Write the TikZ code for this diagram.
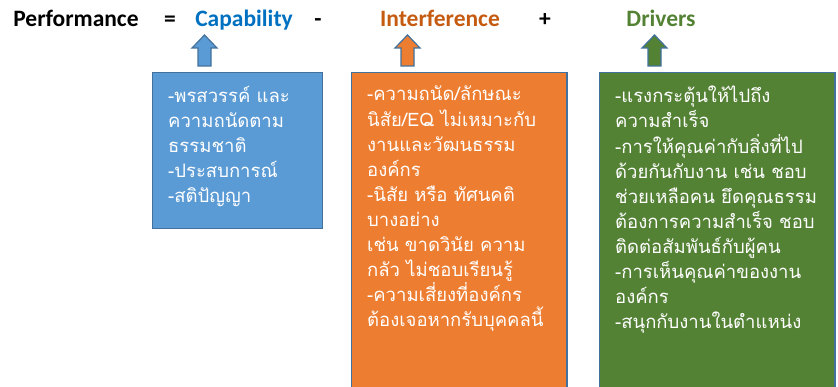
\documentclass[tikz,border=0pt]{standalone}
\usepackage{fontspec}
\setmainfont{Carlito}
\newfontfamily\thaifont[Script=Thai]{Loma}
\definecolor{capblue}{HTML}{0070C0}
\definecolor{intorange}{HTML}{C55A11}
\definecolor{drvgreen}{HTML}{548235}
\definecolor{boxblue}{HTML}{5B9BD5}
\definecolor{boxorange}{HTML}{ED7D31}
\definecolor{boxgreen}{HTML}{548235}
\definecolor{edgeblue}{HTML}{41719C}
\tikzset{
  head/.style={font=\fontsize{23.5}{27}\selectfont\bfseries, inner sep=0pt, anchor=base},
  panel/.style={draw=edgeblue, line width=1.6pt},
  upar/.style={draw=edgeblue, line width=1.2pt},
  body/.style={font=\thaifont\fontsize{18.5}{25.1}\selectfont, text=white, align=left, inner sep=0pt, anchor=north west}
}
\newcommand{\uparrowat}[2]{%
  \draw[upar, fill=#2] (#1,35) -- (#1+12.5,48) -- (#1+6.5,48) -- (#1+6.5,66) -- (#1-6.5,66) -- (#1-6.5,48) -- (#1-12.5,48) -- cycle;}
\begin{document}
\begin{tikzpicture}[x=1pt,y=-1pt]
\useasboundingbox (0,0) rectangle (838,387);
\node[head] (perf) at (76,27) {Performance};
\node[head] (eq) at (170,27) {=};
\node[head, text=capblue] (cap) at (244,27) {Capability};
\node[head] (minus) at (318,27) {-};
\node[head, text=intorange] (intf) at (440,27) {Interference};
\node[head] (plus) at (545,27) {+};
\node[head, text=drvgreen] (drv) at (661,27) {Drivers};
\uparrowat{204.5}{boxblue}
\uparrowat{407.5}{boxorange}
\uparrowat{654.5}{boxgreen}
\draw[panel, fill=boxblue] (152.5,72.5) rectangle (322.5,228.5);
\draw[panel, fill=boxorange] (351.5,72.5) rectangle (567,390);
\draw[panel, fill=boxgreen] (599.5,72.5) rectangle (835,390);
\node[body] (tcap) at (168,86) {-พรสวรรค์ และ\\ความถนัดตาม\\ธรรมชาติ\\-ประสบการณ์\\-สติปัญญา};
\node[body] (tint) at (367,86) {-ความถนัด/ลักษณะ\\นิสัย/EQ ไม่เหมาะกับ\\งานและวัฒนธรรม\\องค์กร\\-นิสัย หรือ ทัศนคติ\\บางอย่าง\\เช่น ขาดวินัย ความ\\กลัว ไม่ชอบเรียนรู้\\-ความเสี่ยงที่องค์กร\\ต้องเจอหากรับบุคคลนี้};
\node[body] (tdrv) at (615,86) {-แรงกระตุ้นให้ไปถึง\\ความสำเร็จ\\-การให้คุณค่ากับสิ่งที่ไป\\ด้วยกันกับงาน เช่น ชอบ\\ช่วยเหลือคน ยึดคุณธรรม\\ต้องการความสำเร็จ ชอบ\\ติดต่อสัมพันธ์กับผู้คน\\-การเห็นคุณค่าของงาน\\องค์กร\\-สนุกกับงานในตำแหน่ง};
\end{tikzpicture}
\end{document}
